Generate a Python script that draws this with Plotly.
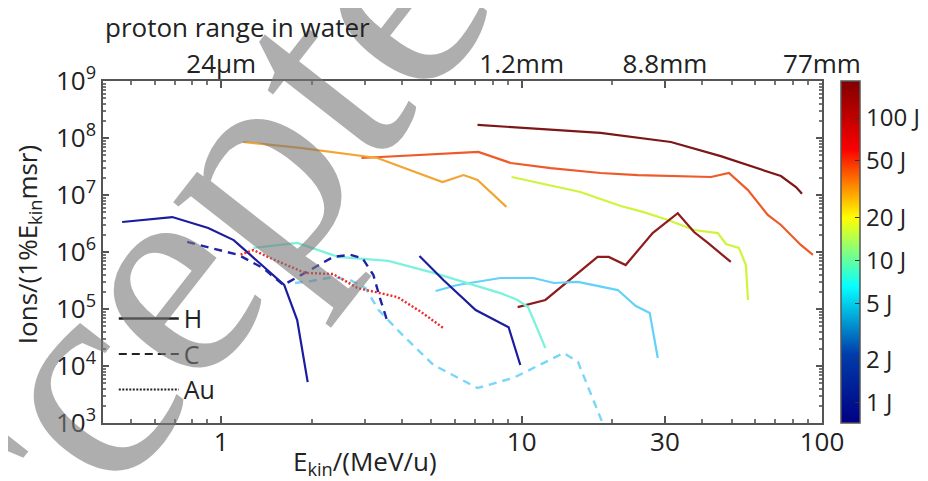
import plotly.graph_objects as go
import numpy as np

# ---------------- data ----------------
# H lines (solid)
h1_e = [7.13, 18.3, 31.4, 46, 73, 81.9, 85.8]
h1_n = [1.7e8, 1.23e8, 8.5e7, 4.8e7, 2.15e7, 1.38e7, 1.05e7]
h1_c = "#7d1616"

h2_e = [2.93, 7.18, 9.2, 12.5, 18.3, 24.4, 42.7, 49, 56.7, 66, 73, 85, 93.3]
h2_n = [4.46e7, 5.7e7, 3.64e7, 2.96e7, 2.43e7, 2.24e7, 2.07e7, 2.43e7, 1.22e7, 4.46e6, 2.98e6, 1.33e6, 8.9e5]
h2_c = "#ee5a28"

h3_e = [1.18, 1.83, 3.31, 5.45, 6.41, 7.13, 8.9]
h3_n = [8.5e7, 6.7e7, 4.46e7, 1.69e7, 2.24e7, 1.83e7, 6.2e6]
h3_c = "#f2a533"

h4_e = [9.26, 15.7, 18.3, 21.4, 25.5, 30.7, 37.5, 45, 47.9, 52.9, 55.8, 56.7]
h4_n = [2.07e7, 1.13e7, 8.5e6, 6.4e6, 5.0e6, 3.64e6, 2.43e6, 2.15e6, 1.38e6, 1.18e6, 5.9e5, 1.44e5]
h4_c = "#cef53a"

h5_e = [9.7, 12.0, 17.9, 19.5, 22.2, 27.3, 33.1, 37.5, 41.7, 49.7]
h5_n = [1.08e5, 1.44e5, 8.2e5, 8.2e5, 5.9e5, 2.15e6, 4.8e6, 2.24e6, 1.44e6, 6.7e5]
h5_c = "#8e1c1c"

h6_e = [5.17, 6.12, 8.5, 10.96, 12.8, 15.4, 20.9, 24, 26.7, 28.4]
h6_n = [2.07e5, 2.64e5, 3.5e5, 3.5e5, 2.86e5, 2.98e5, 2.15e5, 1.13e5, 8.5e4, 1.38e4]
h6_c = "#62d2fa"

h7_e = [1.28, 1.79, 2.45, 3.6, 5.09, 8.5, 9.7, 10.5, 10.96, 12.0]
h7_n = [1.18e6, 1.44e6, 8.2e5, 7.0e5, 4.3e5, 1.9e5, 1.44e5, 1.08e5, 6.4e4, 2.07e4]
h7_c = "#7af2dc"

h8_e = [0.468, 0.687, 0.905, 1.10, 1.25, 1.62, 1.79, 1.94]
h8_n = [3.36e6, 4.1e6, 2.64e6, 1.62e6, 8.9e5, 2.64e5, 6.4e4, 5.2e3]
h8_c = "#1c1ca0"

h9_e = [4.57, 5.5, 7.03, 9.05, 9.9]
h9_n = [8.5e5, 3.2e5, 9.6e4, 4.8e4, 1.04e4]
h9_c = "#1c1ca0"

# C lines (dashed)
c1_e = [0.77, 1.14, 1.38, 1.61, 1.9, 2.36, 2.69, 2.95, 3.21, 3.39, 3.58]
c1_n = [1.5e6, 8.9e5, 5.2e5, 2.64e5, 4.3e5, 8.2e5, 8.9e5, 7.8e5, 3.95e5, 1.44e5, 5.9e4]
c1_c = "#1f24a3"

c2_e = [1.76, 2.0, 2.36, 2.69, 3.02, 3.34, 3.95, 5.09, 7.13, 9.4, 13.8, 15.4, 18.6]
c2_n = [2.86e5, 3.1e5, 3.64e5, 3.2e5, 2.34e5, 9.6e4, 3.8e4, 1.04e4, 4.1e3, 6.2e3, 1.69e4, 1.18e4, 1.0e3]
c2_c = "#78d6f8"

# Au line (dotted)
a1_e = [1.16, 1.28, 1.46, 1.9, 2.36, 2.84, 3.86, 4.61, 5.5]
a1_n = [9.0e5, 1.08e6, 7.8e5, 4.3e5, 4.1e5, 2.34e5, 1.62e5, 9.0e4, 4.6e4]
a1_c = "#f02828"

# axis / colorbar labels
x_tickvals = [1, 10, 30, 100]
x_ticktext = ["1", "10", "30", "100"]
top_ticktext = ["24µm", "1.2mm", "8.8mm", "77mm"]
x_minor = [0.5, 0.6, 0.7, 0.8, 0.9, 2, 3, 4, 5, 6, 7, 8, 9, 20, 40, 50, 60, 70, 80, 90]
y_tickvals = [1e3, 1e4, 1e5, 1e6, 1e7, 1e8, 1e9]
y_ticktext = ["10<sup>%d</sup>" % k for k in range(3, 10)]
y_minor = [m * 10 ** k for k in range(3, 9) for m in range(2, 10)]
cb_energies = [1, 2, 5, 10, 20, 50, 100]
cb_text = ["1 J", "2 J", "5 J", "10 J", "20 J", "50 J", "100 J"]
cb_min, cb_max = 0.72, 182

FONT = "Open Sans"
FS = 26
TXT = "#222222"
fig = go.Figure()

# watermark (semi-transparent)
fig.add_annotation(text="Accepted", xref="paper", yref="paper", x=0.09, y=0.45,
                   xanchor="center", yanchor="middle",
                   showarrow=False, textangle=-52,
                   font=dict(family="Liberation Serif", size=300, color="rgba(120,120,120,0.6)"))

solid = [(h1_e, h1_n, h1_c), (h2_e, h2_n, h2_c), (h3_e, h3_n, h3_c), (h4_e, h4_n, h4_c),
         (h5_e, h5_n, h5_c), (h6_e, h6_n, h6_c), (h7_e, h7_n, h7_c), (h8_e, h8_n, h8_c),
         (h9_e, h9_n, h9_c)]
for e, n, c in solid:
    fig.add_trace(go.Scatter(x=e, y=n, mode="lines", line=dict(color=c, width=2.2),
                             showlegend=False, hoverinfo="skip"))
for e, n, c in [(c1_e, c1_n, c1_c), (c2_e, c2_n, c2_c)]:
    fig.add_trace(go.Scatter(x=e, y=n, mode="lines", line=dict(color=c, width=2.4, dash="8px,6px"),
                             showlegend=False, hoverinfo="skip"))
fig.add_trace(go.Scatter(x=a1_e, y=a1_n, mode="lines", line=dict(color=a1_c, width=2.4, dash="2px,2px"),
                         showlegend=False, hoverinfo="skip"))

# legend entries
for name, dash in [("H", "solid"), ("C", "8px,5px"), ("Au", "2px,1.5px")]:
    fig.add_trace(go.Scatter(x=[None], y=[None], mode="lines", name=name,
                             line=dict(color=TXT, width=2.4 if dash == "solid" else 2, dash=dash)))

# colorbar carrier
cbar = dict(tickvals=list(np.log10(cb_energies)), ticktext=cb_text,
            thickness=19, len=1, lenmode="fraction", y=0.5,
            yanchor="middle", x=1.0264, xanchor="left", xpad=0, ypad=0,
            outlinewidth=1.5, outlinecolor="#555555",
            ticks="inside", ticklen=5, tickcolor="#333333",
            tickfont=dict(family=FONT, size=24, color=TXT))
fig.add_trace(go.Scatter(x=[None], y=[None], mode="markers", showlegend=False, hoverinfo="skip",
                         marker=dict(color=[np.log10(cb_min)], colorscale="Jet",
                                     cmin=np.log10(cb_min), cmax=np.log10(cb_max),
                                     colorbar=cbar)))

# dummy trace for top axis
fig.add_trace(go.Scatter(x=[None], y=[None], xaxis="x2", showlegend=False))

axis_line = dict(showline=True, linecolor="#555555", linewidth=1.5, showgrid=False, zeroline=False)
# page is rendered with the browser's 8px body margin, so the figure is 8px smaller
fig.update_layout(
    width=920, height=473,
    margin=dict(l=95, r=106, t=73, b=58, autoexpand=False),
    paper_bgcolor="white", plot_bgcolor="rgba(0,0,0,0)",
    font=dict(family=FONT, color=TXT),
    xaxis=dict(type="log", range=[np.log10(0.404), 2], tickmode="array", tickvals=x_tickvals,
               ticktext=x_ticktext, ticks="inside", ticklen=7, tickwidth=1.5, tickcolor="#555555",
               tickfont=dict(size=FS, family=FONT), ticklabelstandoff=-5, automargin=False,
               minor=dict(tickvals=x_minor, ticks="inside", ticklen=4, tickcolor="#777777"),
               **axis_line),
    xaxis2=dict(type="log", range=[np.log10(0.404), 2], overlaying="x", side="top",
                tickmode="array", tickvals=x_tickvals, ticktext=top_ticktext,
                ticks="inside", ticklen=7, tickwidth=1.5, tickcolor="#555555",
                tickfont=dict(size=FS, family=FONT), ticklabelstandoff=-4, automargin=False,
                minor=dict(tickvals=x_minor, ticks="inside", ticklen=4, tickcolor="#777777"),
                **axis_line),
    yaxis=dict(type="log", range=[3, 9], tickmode="array", tickvals=y_tickvals, ticktext=y_ticktext,
               ticks="inside", ticklen=6, tickwidth=1.5, tickcolor="#555555", mirror="ticks",
               tickfont=dict(size=FS, family=FONT), ticklabelstandoff=0, automargin=False,
               minor=dict(tickvals=y_minor, ticks="inside", ticklen=3, tickcolor="#777777"),
               **axis_line),
    legend=dict(x=0.015, y=0.372, xanchor="left", yanchor="top", bgcolor="rgba(0,0,0,0)",
                font=dict(size=25, family=FONT, color=TXT), itemwidth=60, tracegroupgap=0),
    showlegend=True,
)

fig.add_annotation(text="proton range in water", xref="paper", yref="paper", x=0.0, y=1.0,
                   yshift=54, xanchor="left", yanchor="middle", showarrow=False,
                   font=dict(size=FS, family=FONT, color=TXT))
fig.add_annotation(text="E<sub>kin</sub>/(MeV/u)", xref="paper", yref="paper", x=0.365, y=0,
                   yshift=-39, xanchor="center", yanchor="middle", showarrow=False,
                   font=dict(size=FS, family=FONT, color=TXT))
fig.add_annotation(text="Ions/(1%E<sub>kin</sub>msr)", xref="paper", yref="paper", x=0, y=0.52,
                   xshift=-75, xanchor="center", yanchor="middle", textangle=-90, showarrow=False,
                   font=dict(size=FS, family=FONT, color=TXT))

fig.write_html("out.html")
